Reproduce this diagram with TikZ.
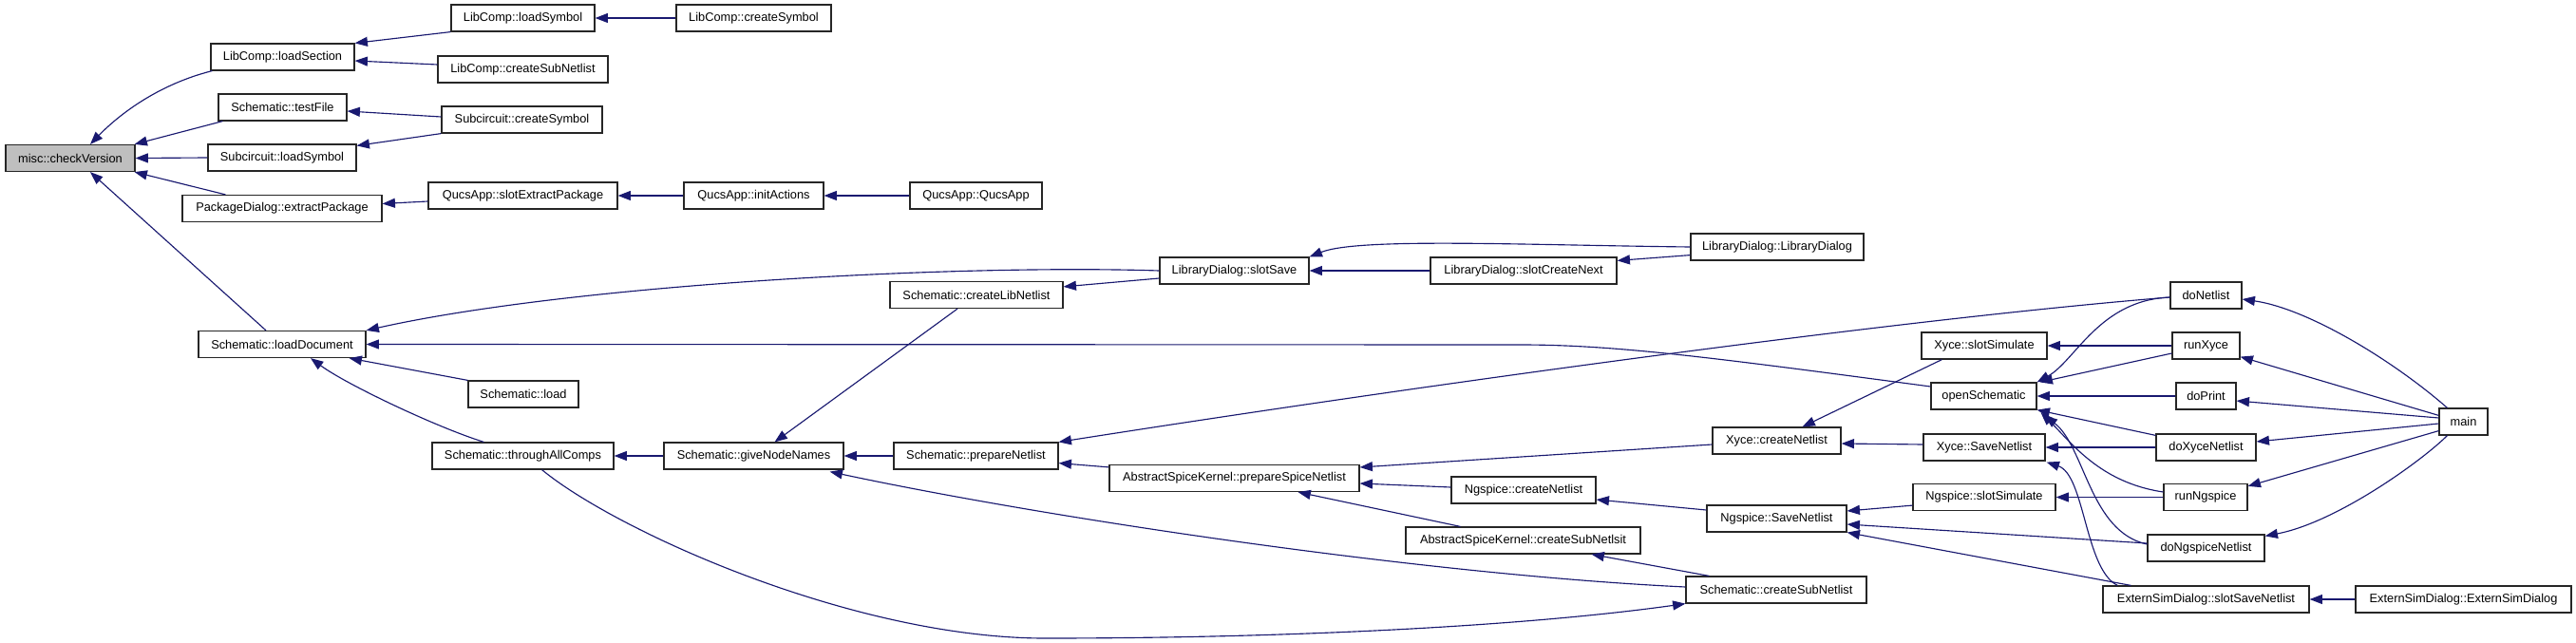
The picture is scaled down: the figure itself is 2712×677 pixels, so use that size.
\documentclass[tikz,border=0pt]{standalone}
\usepackage{fontspec}
\setmainfont{Liberation Sans}
\usetikzlibrary{arrows.meta,calc}
\definecolor{mb}{RGB}{25,25,112}
\definecolor{cvgray}{RGB}{191,191,191}
\begin{document}
\begin{tikzpicture}[x=0.75pt,y=0.75pt,
  nbox/.style={draw=black!85, line width=0.9pt, fill=white, minimum height=21pt, inner sep=0pt,
    font=\fontsize{9.6}{11}\selectfont},
  wd/.style={minimum width=#1},
  cg/.style={draw=mb, line width=0.85pt, -{Triangle[length=10pt,width=7.5pt]}, fill=none}]
\useasboundingbox (0,0) rectangle (2712,-677);
\fill[white] (0,0) rectangle (2712,-677);
% nodes
\node[nbox,wd=102pt,fill=cvgray] (cv) at (74,-166.5) {misc::checkVersion};
\node[nbox,wd=113.25pt] (lsec) at (297.5,-60) {LibComp::loadSection};
\node[nbox,wd=113.25pt] (lsym) at (550.5,-19) {LibComp::loadSymbol};
\node[nbox,wd=122.25pt] (lcsym) at (793.5,-19) {LibComp::createSymbol};
\node[nbox,wd=134.25pt] (lcsub) at (550.5,-73) {LibComp::createSubNetlist};
\node[nbox,wd=101.25pt] (tf) at (297.5,-113) {Schematic::testFile};
\node[nbox,wd=126.75pt] (scs) at (549.5,-126) {Subcircuit::createSymbol};
\node[nbox,wd=117pt] (sls) at (297,-166) {Subcircuit::loadSymbol};
\node[nbox,wd=157.5pt] (pde) at (297,-219.5) {PackageDialog::extractPackage};
\node[nbox,wd=149.25pt] (sep) at (550.5,-206) {QucsApp::slotExtractPackage};
\node[nbox,wd=110.25pt] (ia) at (793.5,-206) {QucsApp::initActions};
\node[nbox,wd=104.25pt] (qa) at (1027.5,-206) {QucsApp::QucsApp};
\node[nbox,wd=132pt] (ld) at (297,-362.5) {Schematic::loadDocument};
\node[nbox,wd=87pt] (sl) at (551,-415) {Schematic::load};
\node[nbox,wd=143.25pt] (tac) at (550.5,-480) {Schematic::throughAllComps};
\node[nbox,wd=141.75pt] (gnn) at (793.5,-480) {Schematic::giveNodeNames};
\node[nbox,wd=136.5pt] (cln) at (1028,-310.5) {Schematic::createLibNetlist};
\node[nbox,wd=129.75pt] (pn) at (1027.5,-480) {Schematic::prepareNetlist};
\node[nbox,wd=117.75pt] (lss) at (1299.5,-285) {LibraryDialog::slotSave};
\node[nbox,wd=147pt] (lcn) at (1604,-285) {LibraryDialog::slotCreateNext};
\node[nbox,wd=136.5pt] (ldd) at (1871,-260) {LibraryDialog::LibraryDialog};
\node[nbox,wd=197.25pt] (pspn) at (1299.5,-503.5) {AbstractSpiceKernel::prepareSpiceNetlist};
\node[nbox,wd=114pt] (ncn) at (1604,-516) {Ngspice::createNetlist};
\node[nbox,wd=185.25pt] (csn) at (1603.5,-569) {AbstractSpiceKernel::createSubNetlsit};
\node[nbox,wd=142.5pt] (scsn) at (1870,-621) {Schematic::createSubNetlist};
\node[nbox,wd=101.25pt] (xcn) at (1870.5,-464) {Xyce::createNetlist};
\node[nbox,wd=110.25pt] (nsn) at (1870.5,-546) {Ngspice::SaveNetlist};
\node[nbox,wd=99pt] (xss) at (2089,-364) {Xyce::slotSimulate};
\node[nbox,wd=83.25pt] (os) at (2088.5,-417) {openSchematic};
\node[nbox,wd=96pt] (xsn) at (2089,-471) {Xyce::SaveNetlist};
\node[nbox,wd=112.5pt] (nss) at (2089,-523.5) {Ngspice::slotSimulate};
\node[nbox,wd=162.75pt] (esn) at (2322.5,-631) {ExternSimDialog::slotSaveNetlist};
\node[nbox,wd=56.25pt] (dn) at (2322.5,-311) {doNetlist};
\node[nbox,wd=53.25pt] (rx) at (2322.5,-364) {runXyce};
\node[nbox,wd=47.25pt] (dp) at (2322.5,-417) {doPrint};
\node[nbox,wd=78.75pt] (dxn) at (2322.5,-471) {doXyceNetlist};
\node[nbox,wd=66pt] (rn) at (2322,-523.5) {runNgspice};
\node[nbox,wd=92.25pt] (dnn) at (2322.5,-577) {doNgspiceNetlist};
\node[nbox,wd=38.25pt] (main) at (2593.5,-444) {main};
\node[nbox,wd=170.25pt] (esd) at (2593.5,-631) {ExternSimDialog::ExternSimDialog};
% edges
\draw[cg] ($(lsec.south west)+(2,0)$) .. controls (166,-89) and (125,-121) .. ($(cv.north)+(21,0)$);
\draw[cg] ($(tf.south west)+(5,0)$) -- ($(cv.north east)+(-1,0)$);
\draw[cg] (sls.west) -- (cv.east);
\draw[cg] ($(pde.north west)+(46,0)$) -- ($(cv.south east)+(-1,0)$);
\draw[cg] ($(ld.north)+(-17,0)$) -- ($(cv.south)+(21,0)$);
\draw[cg] (lsym.south west) -- (lsec.north east);
\draw[cg] ($(lcsub.west)+(0,5)$) -- ($(lsec.east)+(0,-4)$);
\draw[cg] (lcsym.west) -- (lsym.east);
\draw[cg] ($(scs.west)+(0,3)$) -- ($(tf.east)+(0,-4)$);
\draw[cg] (scs.south west) -- ($(sls.north east)+(0,-2)$);
\draw[cg] ($(sep.west)+(0,-6)$) -- ($(pde.east)+(0,5)$);
\draw[cg] (ia.west) -- (sep.east);
\draw[cg] (qa.west) -- (ia.east);
\draw[cg] (lss.west) .. controls (1000,-278) and (600,-300) .. (ld.north east);
\draw[cg] ($(os.west)+(0,10)$) .. controls (1800,-376) and (1700,-363) .. (1600,-363) -- (ld.east);
\draw[cg] (sl.north west) -- ($(ld.south east)+(-18,0)$);
\draw[cg] ($(tac.north west)+(55,0)$) .. controls (460,-450) and (365,-405) .. ($(ld.south)+(30,0)$);
\draw[cg] (gnn.west) -- (tac.east);
\draw[cg] ($(cln.south)+(-20,0)$) -- ($(gnn.north)+(22,0)$);
\draw[cg] (pn.west) -- (gnn.east);
\draw[cg] ($(scsn.west)+(0,3)$) .. controls (1500,-605) and (1100,-545) .. ($(gnn.south east)+(-15,-2)$);
\draw[cg] ($(tac.south)+(20,0)$) .. controls (650,-560) and (900,-672) .. (1100,-672) .. controls (1350,-672) and (1600,-660) .. (scsn.south west);
\draw[cg] ($(lss.west)+(0,-8)$) -- ($(cln.north east)+(0,-6)$);
\draw[cg] (lcn.west) -- (lss.east);
\draw[cg] (ldd.west) .. controls (1600,-258) and (1430,-250) .. (lss.north east);
\draw[cg] ($(ldd.south west)+(0,6)$) -- ($(lcn.north east)+(0,-4)$);
\draw[cg] ($(dn.west)+(0,-2)$) .. controls (2000,-336) and (1500,-405) .. (pn.north east);
\draw[cg] ($(pspn.north west)+(0,-3)$) -- ($(pn.south east)+(0,7)$);
\draw[cg] ($(xcn.west)+(0,-4)$) -- ($(pspn.east)+(0,11.5)$);
\draw[cg] ($(ncn.west)+(0,3)$) -- ($(pspn.east)+(0,-5.5)$);
\draw[cg] ($(csn.north)+(-66,0)$) -- ($(pspn.south)+(67,0)$);
\draw[cg] ($(scsn.north west)+(25,0)$) -- ($(csn.south)+(72,0)$);
\draw[cg] ($(nsn.west)+(0,9)$) -- ($(ncn.east)+(0,-10)$);
\draw[cg] ($(xss.south west)+(22,0)$) -- ($(xcn.north)+(27,0)$);
\draw[cg] ($(xsn.west)+(0,3)$) -- ($(xcn.east)+(0,-3)$);
\draw[cg] (rx.west) -- (xss.east);
\draw[cg] ($(dn.west)+(0,-2)$) .. controls (2210,-316) and (2185,-380) .. (os.north east);
\draw[cg] ($(rx.west)+(0,-8)$) -- ($(os.north east)+(3,0)$);
\draw[cg] (dp.west) -- (os.east);
\draw[cg] ($(dxn.north west)+(0,-2)$) -- (os.south east);
\draw[cg] ($(rn.west)+(0,5.5)$) .. controls (2210,-508) and (2180,-465) .. ($(os.south east)+(4,-3)$);
\draw[cg] ($(dnn.west)+(0,4)$) .. controls (2200,-560) and (2195,-470) .. ($(os.south east)+(8,-6)$);
\draw[cg] (dxn.west) -- (xsn.east);
\draw[cg] ($(esn.north west)+(16,0)$) .. controls (2195,-600) and (2195,-500) .. ($(xsn.south east)+(1,-1)$);
\draw[cg] ($(nss.south west)+(0,6)$) -- ($(nsn.east)+(0,8)$);
\draw[cg] ($(dnn.west)+(0,5)$) -- ($(nsn.east)+(0,-6)$);
\draw[cg] ($(esn.north west)+(30,0)$) -- (nsn.south east);
\draw[cg] (rn.west) -- (nss.east);
\draw[cg] (esd.west) -- (esn.east);
\draw[cg] ($(main.north west)+(9,0)$) .. controls (2520,-380) and (2430,-325) .. ($(dn.east)+(0,-4)$);
\draw[cg] ($(main.north west)+(0,-8)$) -- ($(rx.south east)+(0,3)$);
\draw[cg] ($(main.west)+(0,4)$) -- ($(dp.east)+(0,-5)$);
\draw[cg] ($(main.west)+(0,-2)$) -- ($(dxn.east)+(0,6)$);
\draw[cg] ($(main.south west)+(0,5)$) -- ($(rn.north east)+(0,-3)$);
\draw[cg] ($(main.south west)+(9,0)$) .. controls (2550,-485) and (2460,-550) .. ($(dnn.north east)+(0,-2)$);
\end{tikzpicture}
\end{document}
